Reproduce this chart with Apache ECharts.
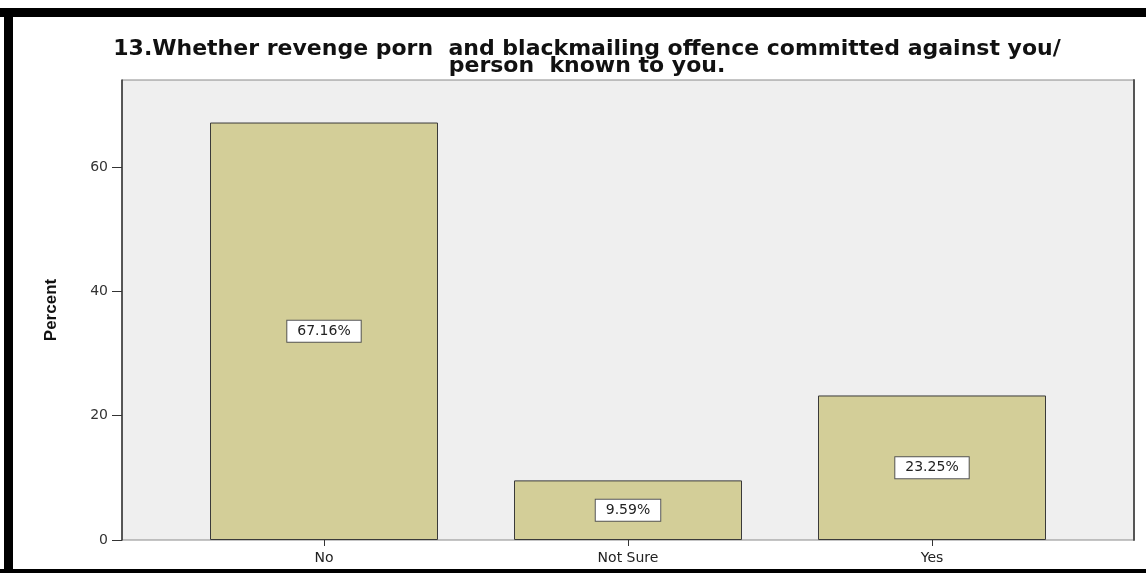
<!DOCTYPE html>
<html>
<head>
<meta charset="utf-8">
<script src="https://cdn.jsdelivr.net/npm/echarts@6/dist/echarts.min.js"></script>
<style>
  html, body { margin: 0; padding: 0; background: #ffffff; }
  #chart { width: 1146px; height: 573px; }
</style>
</head>
<body>
<div id="chart"></div>
<script>
// Survey answers and their shares (percent of respondents)
const categories = ['No', 'Not Sure', 'Yes'];
const percentValues = [67.16, 9.59, 23.25];
const yTicks = [0, 20, 40, 60];

const titleText = '13.Whether revenge porn  and blackmailing offence committed against you/\nperson  known to you.';

const chart = echarts.init(document.getElementById('chart'), null, { renderer: 'canvas' });

const Y_MAX = 74;
const PLOT_TOP = 80;
const PLOT_H = 460;

chart.setOption({
  animation: false,
  backgroundColor: '#ffffff',
  title: {
    text: titleText,
    left: 582,
    top: 36,
    textAlign: 'center',
    textStyle: {
      fontFamily: 'DejaVu Sans',
      fontWeight: 'bold',
      fontSize: 22,
      lineHeight: 17,
      color: '#111111'
    }
  },
  graphic: [
    // black frame around the figure
    { type: 'rect', shape: { x: 0, y: 8, width: 1146, height: 9 }, style: { fill: '#000' }, z: 100 },
    { type: 'rect', shape: { x: 4, y: 8, width: 9, height: 565 }, style: { fill: '#000' }, z: 100 },
    { type: 'rect', shape: { x: 0, y: 569, width: 1146, height: 4 }, style: { fill: '#000' }, z: 100 }
  ],
  grid: [
    // plot frame with the grey background and the percent axis
    {
      left: 122, top: PLOT_TOP, width: 1012, height: PLOT_H,
      show: true, backgroundColor: '#EFEFEF', borderColor: '#8a8a8a', borderWidth: 1
    },
    // inner band holding the three bars
    { left: 172, top: PLOT_TOP, width: 912, height: PLOT_H }
  ],
  xAxis: [
    { gridIndex: 0, type: 'value', show: false, min: 0, max: 1 },
    {
      gridIndex: 1,
      type: 'category',
      data: categories,
      axisLine: { show: false },
      axisTick: { show: true, alignWithLabel: true, length: 6, lineStyle: { color: '#333', width: 1 } },
      axisLabel: { margin: 11, fontFamily: 'DejaVu Sans', fontSize: 14, color: '#222' },
      splitLine: { show: false }
    }
  ],
  yAxis: [
    {
      gridIndex: 0,
      type: 'value',
      min: 0, max: Y_MAX, interval: 20,
      name: 'Percent',
      nameLocation: 'middle',
      nameRotate: 90,
      nameGap: 62,
      nameTextStyle: {
        fontFamily: 'Liberation Sans Narrow, Liberation Sans',
        fontWeight: 'bold',
        fontSize: 17,
        color: '#111'
      },
      axisLine: { show: true, lineStyle: { color: '#333', width: 1.5 } },
      axisTick: { show: true, length: 10, customValues: yTicks, lineStyle: { color: '#333', width: 1 } },
      axisLabel: {
        margin: 14,
        fontFamily: 'DejaVu Sans',
        fontSize: 14,
        color: '#333',
        customValues: yTicks
      },
      splitLine: { show: false }
    },
    {
      gridIndex: 0,
      type: 'value',
      position: 'right',
      min: 0, max: Y_MAX,
      axisLine: { show: true, lineStyle: { color: '#555', width: 2 } },
      axisTick: { show: false },
      axisLabel: { show: false },
      splitLine: { show: false }
    },
    {
      gridIndex: 1,
      type: 'value',
      min: 0, max: Y_MAX,
      show: false
    }
  ],
  series: [
    {
      type: 'bar',
      xAxisIndex: 1,
      yAxisIndex: 2,
      data: percentValues,
      barWidth: 228,
      itemStyle: { color: '#D3CE98', borderColor: '#3a3a3a', borderWidth: 1 },
      label: {
        show: true,
        position: 'inside',
        formatter: p => p.value.toFixed(2) + '%',
        fontFamily: 'DejaVu Sans',
        fontSize: 14,
        color: '#222',
        backgroundColor: '#ffffff',
        borderColor: '#555',
        borderWidth: 1,
        padding: [4, 10, 3, 10]
      }
    }
  ]
});
</script>
</body>
</html>
